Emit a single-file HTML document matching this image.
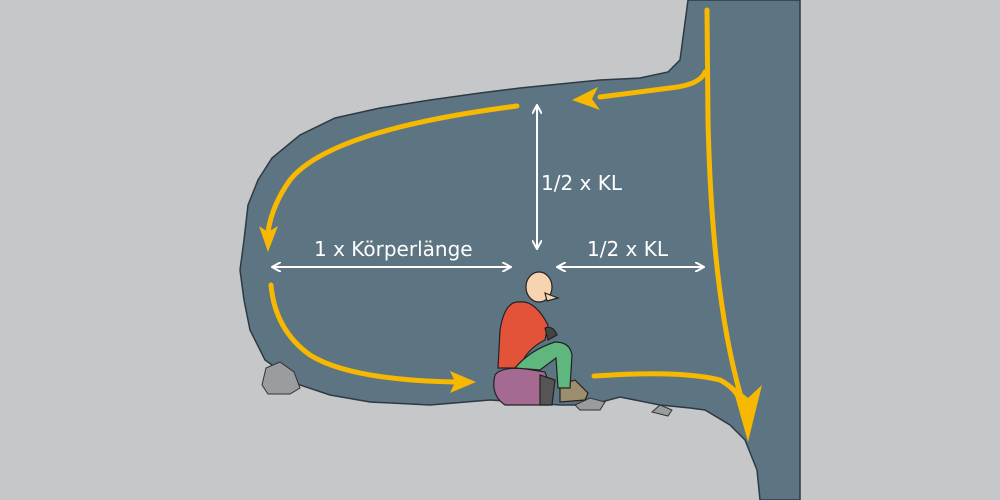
<!DOCTYPE html>
<html><head><meta charset="utf-8"><style>
html,body{margin:0;padding:0;background:#c6c7c9;}
svg{display:block}
text{font-family:"DejaVu Sans","Liberation Sans",sans-serif;fill:#fff;}
</style></head><body>
<svg width="1000" height="500" viewBox="0 0 1000 500">
<rect width="1000" height="500" fill="#c6c7c9"/>
<defs>
<marker id="wa" markerWidth="10" markerHeight="10" refX="8" refY="5" orient="auto" markerUnits="userSpaceOnUse"><path d="M0,0 L9,5 L0,10" fill="none" stroke="#fff" stroke-width="2"/></marker>
<marker id="wb" markerWidth="10" markerHeight="10" refX="2" refY="5" orient="auto" markerUnits="userSpaceOnUse"><path d="M10,0 L1,5 L10,10" fill="none" stroke="#fff" stroke-width="2"/></marker>
</defs>
<!-- cave -->
<path d="M688,0 L800,0 L800,500 L760,500 L757,470 L745,440 L730,425 L705,410 L690,408 L660,405 L620,397 L590,405 L560,405 L520,402 L490,400 L430,405 L370,402 L330,395 L300,385 L265,360 L250,330 L244,300 L240,270 L244,240 L248,205 L258,180 L272,158 L300,135 L335,118 L380,108 L430,100 L480,93 L520,88 L560,84 L600,80 L640,78 L668,72 L680,60 L684,30 Z" fill="#5d7482" stroke="#2d3a44" stroke-width="1.5"/>
<!-- rocks -->
<path d="M262,385 L266,368 L280,362 L294,372 L300,388 L290,394 L268,394 Z" fill="#9a9ca0" stroke="#333" stroke-width="1"/>
<path d="M652,412 L660,405 L672,410 L668,416 Z" fill="#9a9ca0" stroke="#333" stroke-width="1"/>
<path d="M575,405 L590,398 L605,402 L600,410 L580,410 Z" fill="#9a9ca0" stroke="#333" stroke-width="1"/>
<!-- yellow arrows -->
<g fill="none" stroke="#f6b800" stroke-width="5" stroke-linecap="round">
<path d="M707,10 L708,120 Q712,300 742,400"/>
<path d="M705,72 Q700,85 670,88 L600,97"/>
<path d="M517,106 Q330,130 290,180 Q272,205 268,232"/>
<path d="M271,285 Q275,330 310,355 Q350,380 455,382"/>
<path d="M594,376 Q680,370 720,380 Q735,388 740,400"/>
</g>
<g fill="#f6b800">
<path d="M732,385 L748,442 L762,385 L748,398 Z"/>
<path d="M572,100 L598,87 L592,99 L600,110 Z"/>
<path d="M268,252 L259,226 L268,232 L278,226 Z"/>
<path d="M476,382 L450,371 L455,382 L450,393 Z"/>
</g>
<!-- white dimension lines -->
<g stroke="#fff" stroke-width="2">
<line x1="537" y1="106" x2="537" y2="248" marker-start="url(#wb)" marker-end="url(#wa)"/>
<line x1="273" y1="267" x2="510" y2="267" marker-start="url(#wb)" marker-end="url(#wa)"/>
<line x1="558" y1="267" x2="703" y2="267" marker-start="url(#wb)" marker-end="url(#wa)"/>
</g>
<text x="541" y="190" font-size="20">1/2 x KL</text>
<text x="314" y="256" font-size="20">1 x Körperlänge</text>
<text x="587" y="256" font-size="20">1/2 x KL</text>
<!-- person -->
<g stroke="#222" stroke-width="1.2">
<path d="M495,375 Q500,368 520,368 L545,372 Q552,390 548,405 L505,405 Q490,395 495,375 Z" fill="#a46a91"/>
<path d="M540,375 L555,380 L552,405 L540,405 Z" fill="#555"/>
<path d="M560,385 L575,380 L588,393 L585,400 L560,402 Z" fill="#9c8f70"/>
<path d="M520,302 Q505,300 500,330 L498,368 L520,368 Q525,350 545,340 L548,325 Q535,300 520,302 Z" fill="#e2533a"/>
<path d="M515,368 Q530,350 555,342 Q570,342 572,355 L570,388 L558,388 L556,358 L540,370 Z" fill="#5fb77d"/>
<path d="M545,328 Q553,325 557,335 L548,340 Z" fill="#444"/>
<ellipse cx="539" cy="287" rx="13" ry="15" fill="#f7d3b0"/>
<path d="M545,293 L558,298 L547,301 Z" fill="#f7d3b0"/>
</g>
</svg>
</body></html>
